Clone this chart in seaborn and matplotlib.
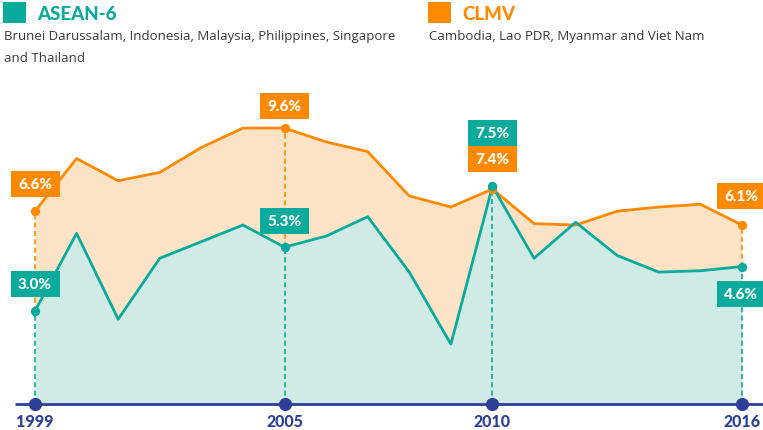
import matplotlib
matplotlib.use("Agg")
import matplotlib.pyplot as plt
import seaborn as sns
import pandas as pd
from matplotlib.patches import Rectangle

sns.set_theme(style="white")
plt.rcParams['font.family'] = ['Lato', 'DejaVu Sans']

years = list(range(1999, 2017))
asean6 = [3.0, 5.8, 2.7, 4.9, 5.5, 6.1, 5.3, 5.7, 6.4, 4.4, 1.8, 7.5, 4.9, 6.2, 5.0, 4.4, 4.45, 4.6]
clmv = [6.6, 8.5, 7.7, 8.0, 8.9, 9.6, 9.6, 9.1, 8.75, 7.15, 6.75, 7.4, 6.15, 6.1, 6.6, 6.75, 6.85, 6.1]
tick_years = [1999, 2005, 2010, 2016]
series_names = ["ASEAN-6", "CLMV"]
series_desc = ["Brunei Darussalam, Indonesia, Malaysia, Philippines, Singapore\nand Thailand",
               "Cambodia, Lao PDR, Myanmar and Viet Nam"]

TEAL = "#0aab9c"
ORANGE = "#ff8a00"
TEAL_FILL = "#d0eae6"
ORANGE_FILL = "#fde3c5"
NAVY = "#2e3f99"

W, H = 763, 431
fig = plt.figure(figsize=(W / 100, H / 100), dpi=100)
ax = fig.add_axes([0, 0, 1, 1])

# pixel mapping
px_per_year = (742 - 35) / 17
px_per_unit = 27.7
x0 = 1999 - 35 / px_per_year
x1 = x0 + W / px_per_year
y0 = -36 / px_per_unit
y1 = y0 + H / px_per_unit

def dx(p):
    return p / px_per_year

def dy(p):
    return p / px_per_unit

base = dy(-10)

df = pd.DataFrame({"year": years, "ASEAN-6": asean6, "CLMV": clmv})

ax.fill_between(years, base, clmv, color=ORANGE_FILL, lw=0, zorder=1)
ax.fill_between(years, base, asean6, color=TEAL_FILL, lw=0, zorder=2)
sns.lineplot(data=df, x="year", y="CLMV", color=ORANGE, lw=2, ax=ax, zorder=4)
sns.lineplot(data=df, x="year", y="ASEAN-6", color=TEAL, lw=2, ax=ax, zorder=5)
ax.axis("off")
ax.set_xlim(x0, x1)
ax.set_ylim(y0, y1)

# baseline axis
ax.plot([x0 + dx(15), x1], [base, base], color=NAVY, lw=2, zorder=6, solid_capstyle="butt")
ax.scatter(tick_years, [base] * len(tick_years), s=90, color=NAVY, zorder=7, linewidths=0)
for yr in tick_years:
    ax.text(yr, base - dy(17), str(yr), color=NAVY, fontsize=11.5, fontweight="black",
            ha="center", va="center", zorder=8)

# dashed guides and dots
for yr in tick_years:
    i = years.index(yr)
    a, c = asean6[i], clmv[i]
    ax.plot([yr, yr], [base, a], color=TEAL, lw=1.2, ls=(0, (3, 2)), zorder=3)
    if c > a:
        ax.plot([yr, yr], [a, c], color=ORANGE, lw=1.2, ls=(0, (3, 2)), zorder=3)
    ax.scatter([yr], [c], s=45, color=ORANGE, zorder=6, linewidths=0)
    ax.scatter([yr], [a], s=45, color=TEAL, zorder=7, linewidths=0)

def label_box(yr, val, off_px, color, text):
    cx, cy = yr, val + dy(off_px)
    bw, bh = dx(49), dy(26)
    ax.add_patch(Rectangle((cx - bw / 2, cy - bh / 2), bw, bh, facecolor=color,
                           edgecolor="none", zorder=9))
    ax.text(cx, cy, text, color="white", fontsize=11, fontweight="black",
            ha="center", va="center", zorder=10)

lab = {}
for yr in tick_years:
    i = years.index(yr)
    lab[yr] = (asean6[i], clmv[i])

label_box(1999, lab[1999][1], 27, ORANGE, f"{lab[1999][1]:.1f}%")
label_box(1999, lab[1999][0], 27, TEAL, f"{lab[1999][0]:.1f}%")
label_box(2005, lab[2005][1], 22, ORANGE, f"{lab[2005][1]:.1f}%")
label_box(2005, lab[2005][0], 26, TEAL, f"{lab[2005][0]:.1f}%")
label_box(2010, lab[2010][0], 53, TEAL, f"{lab[2010][0]:.1f}%")
label_box(2010, lab[2010][0], 27, ORANGE, f"{lab[2010][1]:.1f}%")
label_box(2016 + dx(-1), lab[2016][1], 29, ORANGE, f"{lab[2016][1]:.1f}%")
label_box(2016 + dx(-1), lab[2016][0], -27, TEAL, f"{lab[2016][0]:.1f}%")

# header legend
def fx(p):
    return p / W

def fy(p):
    return 1 - p / H

for name, desc, col, xp in [(series_names[0], series_desc[0], TEAL, 3),
                            (series_names[1], series_desc[1], ORANGE, 428)]:
    fig.patches.append(Rectangle((fx(xp), fy(24)), fx(23), 21 / H, facecolor=col,
                                 edgecolor="none", transform=fig.transFigure))
    fig.text(fx(xp + 34), fy(14), name, color=col, fontsize=13.5, fontweight="black",
             ha="left", va="center")
    fig.text(fx(xp + 1), fy(30), desc, color="#3a3a3a", fontsize=9.5,
             family=["Open Sans", "DejaVu Sans"],
             ha="left", va="top", linespacing=1.85)

fig.savefig("out.png", dpi=100)
